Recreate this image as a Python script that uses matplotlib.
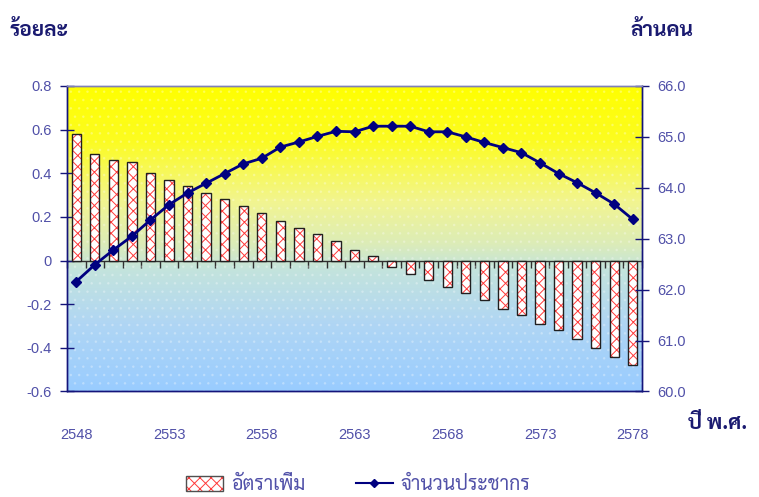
import numpy as np
import matplotlib
matplotlib.use("Agg")
import matplotlib.pyplot as plt
from matplotlib.colors import LinearSegmentedColormap
from matplotlib.patches import Rectangle
from matplotlib.lines import Line2D
from matplotlib.legend_handler import HandlerTuple

# ปี พ.ศ. 2548 - 2578
years = [2548, 2549, 2550, 2551, 2552, 2553, 2554, 2555, 2556, 2557,
         2558, 2559, 2560, 2561, 2562, 2563, 2564, 2565, 2566, 2567,
         2568, 2569, 2570, 2571, 2572, 2573, 2574, 2575, 2576, 2577, 2578]
# อัตราเพิ่ม (ร้อยละ)
growth = [0.58, 0.49, 0.46, 0.45, 0.40, 0.37, 0.34, 0.31, 0.28, 0.25,
          0.22, 0.18, 0.15, 0.12, 0.09, 0.05, 0.02, -0.03, -0.06, -0.09,
          -0.12, -0.15, -0.18, -0.22, -0.25, -0.29, -0.32, -0.36, -0.40, -0.44, -0.48]
# จำนวนประชากร (ล้านคน)
population = [62.16, 62.49, 62.78, 63.05, 63.37, 63.67, 63.90, 64.09, 64.28, 64.47,
              64.58, 64.80, 64.90, 65.01, 65.11, 65.10, 65.21, 65.21, 65.21, 65.10,
              65.10, 65.00, 64.89, 64.79, 64.69, 64.49, 64.28, 64.10, 63.90, 63.68, 63.38]
year_labels = [2548, 2553, 2558, 2563, 2568, 2573, 2578]
left_ticks = [-0.6, -0.4, -0.2, 0, 0.2, 0.4, 0.6, 0.8]
left_labels = ["-0.6", "-0.4", "-0.2", "0", "0.2", "0.4", "0.6", "0.8"]
right_ticks = [60, 61, 62, 63, 64, 65, 66]

thai = ["Sarabun", "Noto Sans Thai", "DejaVu Sans"]
num_font = ["Liberation Sans", "DejaVu Sans"]
navy = "#14147a"
tick_col = "#5050a8"
hatch_red = "#ff3a3a"

plt.rcParams["hatch.linewidth"] = 0.7

fig = plt.figure(figsize=(7.59, 4.97), dpi=100)
ax = fig.add_axes([0.0883, 0.2123, 0.7576, 0.6147])
ax2 = ax.twinx()

# plot area background: yellow at the top fading to light blue
grad_cmap = LinearSegmentedColormap.from_list("bg", [
    (0.0, "#ffff00"), (0.18, "#fcfc20"), (0.38, "#f2f590"),
    (0.52, "#dcecb8"), (0.60, "#c4e4dc"), (0.78, "#b0d6f4"), (1.0, "#99ccff")])
grad = np.linspace(0, 1, 256).reshape(-1, 1)
ax.imshow(grad, cmap=grad_cmap, extent=[0, 1, 0, 1], transform=ax.transAxes,
          aspect="auto", zorder=0, interpolation="bicubic")
ax.add_patch(Rectangle((0, 0), 1, 1, transform=ax.transAxes, facecolor="none",
                       edgecolor=(1, 1, 1, 0.22), hatch="..", lw=0, zorder=0.5))

x = np.array(years)
ax.bar(x, growth, width=0.5, color="white", edgecolor=hatch_red, hatch="xxx",
       lw=0, zorder=2)
ax.bar(x, growth, width=0.5, color="none", edgecolor="#202020", lw=1.0, zorder=3)

ax.set_xlim(x[0] - 0.5, x[-1] + 0.5)
ax.set_ylim(-0.6, 0.8)
ax.set_yticks(left_ticks)
ax.set_yticklabels(left_labels)
ax.set_xticks(year_labels)
ax.tick_params(axis="x", length=0, pad=26, labelsize=10.5, labelcolor=tick_col)
ax.tick_params(axis="y", direction="inout", length=10, width=1, color=navy,
               labelsize=10.5, labelcolor=tick_col, pad=6)
for lab in ax.get_xticklabels() + ax.get_yticklabels():
    lab.set_family(num_font)

# category axis drawn along the zero line, ticks between the bars
zero_ax = ax.secondary_xaxis(0.6 / 1.4)
zero_ax.set_xticks(np.append(x - 0.5, x[-1] + 0.5))
zero_ax.tick_params(axis="x", direction="out", length=5, width=1, color="#303030",
                    labelbottom=False, labeltop=False)
for s in zero_ax.spines.values():
    s.set_color("#303030")
    s.set_linewidth(1.0)

ax2.plot(x, population, color="#000080", lw=2.0, marker="D", markersize=5,
         markeredgecolor="#000080", zorder=5)
ax2.set_ylim(60, 66)
ax2.set_yticks(right_ticks)
ax2.set_yticklabels(["%.1f" % v for v in right_ticks])
ax2.tick_params(axis="y", direction="inout", length=10, width=1, color=navy,
                labelsize=10.5, labelcolor=tick_col, pad=6)
for lab in ax2.get_yticklabels():
    lab.set_family(num_font)

for a in (ax, ax2):
    for name, s in a.spines.items():
        s.set_color(navy)
        s.set_linewidth(1.0)
    a.spines["top"].set_color("#8080b8")

fig.text(0.013, 0.938, "ร้อยละ", family=thai, fontsize=15, fontweight="bold",
         color="#1a1a70", va="center")
fig.text(0.831, 0.938, "ล้านคน", family=thai, fontsize=15, fontweight="bold",
         color="#1a1a70", va="center")
fig.text(0.907, 0.148, "ปี พ.ศ.", family=thai, fontsize=15, fontweight="bold",
         color="#1a1a70", va="center")

# legend
hatch_patch = Rectangle((0, 0), 1, 1, facecolor="white", edgecolor=hatch_red,
                        hatch="xxx", lw=0)
frame_patch = Rectangle((0, 0), 1, 1, facecolor="none", edgecolor="#505050", lw=1)
line_handle = Line2D([], [], color="#000080", lw=1.5, marker="D", markersize=4)
leg = fig.legend([(hatch_patch, frame_patch), line_handle],
                 ["อัตราเพิ่ม", "จำนวนประชากร"],
                 handler_map={tuple: HandlerTuple(ndivide=1)},
                 loc="center", bbox_to_anchor=(0.472, 0.024), ncol=2,
                 frameon=False, columnspacing=2.6, handlelength=1.9,
                 handleheight=0.8, handletextpad=0.4,
                 prop={"family": thai, "size": 14})
for t in leg.get_texts():
    t.set_color(tick_col)

fig.savefig("out.png", dpi=100)
